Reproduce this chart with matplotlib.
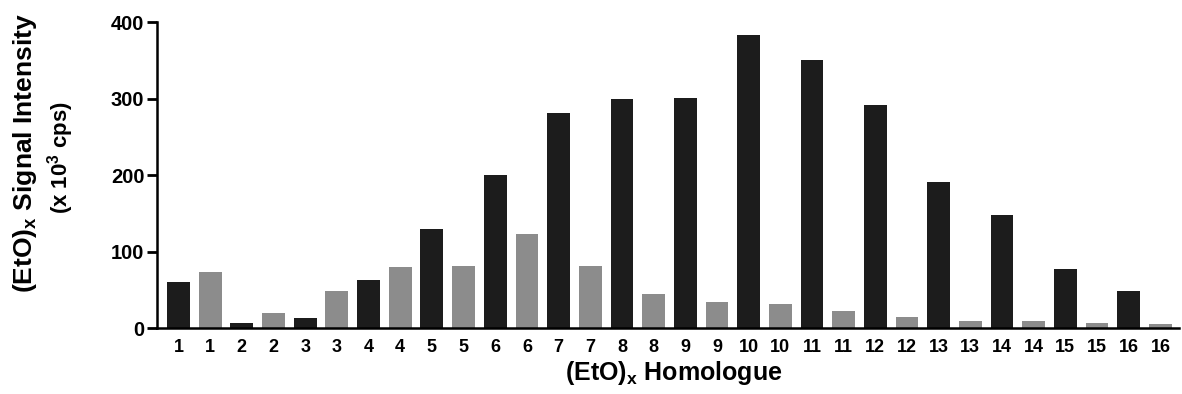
import matplotlib
matplotlib.use("Agg")
import matplotlib.pyplot as plt
import numpy as np

# Homologue numbers (each appears twice: dark series then gray series)
homologues = [str(n) for n in range(1, 17)]
dark_values = [60, 6, 13, 63, 130, 200, 281, 300, 301, 383, 351, 291, 191, 148, 77, 49]
gray_values = [73, 20, 49, 80, 81, 123, 81, 44, 34, 31, 22, 14, 9, 9, 6, 5]
y_ticks = [0, 100, 200, 300, 400]

dark_color = "#1c1c1c"
gray_color = "#8c8c8c"

plt.rcParams["font.family"] = ["Liberation Sans", "DejaVu Sans"]
plt.rcParams["mathtext.default"] = "regular"

fig = plt.figure(figsize=(11.82, 3.94), dpi=100)
ax = fig.add_axes([0.1328, 0.1675, 0.865, 0.7765])

values, colors, labels = [], [], []
for h, d, g in zip(homologues, dark_values, gray_values):
    values += [d, g]
    colors += [dark_color, gray_color]
    labels += [h, h]

x = np.arange(len(values))
ax.bar(x, values, width=0.72, color=colors, edgecolor="none")

ax.set_xlim(-0.68, 31.6)
ax.set_ylim(0, 400)
ax.set_yticks(y_ticks)
ax.set_yticklabels([str(t) for t in y_ticks], fontsize=14.5, fontweight="bold")
ax.set_xticks(x)
ax.set_xticklabels(labels, fontsize=13, fontweight="bold")
ax.tick_params(axis="x", length=0, pad=8)
ax.tick_params(axis="y", length=7, width=2, pad=2)

for side in ("top", "right"):
    ax.spines[side].set_visible(False)
ax.spines["left"].set_linewidth(1.8)
ax.spines["bottom"].set_linewidth(1.8)

fig.text(0.021, 0.612, "(EtO)$_{x}$ Signal Intensity", rotation=90,
         ha="center", va="center", fontsize=19, fontweight="bold")
fig.text(0.051, 0.599, "(x 10$^{3}$ cps)", rotation=90,
         ha="center", va="center", fontsize=16, fontweight="bold")
fig.text(0.570, 0.036, "(EtO)$_{x}$ Homologue",
         ha="center", va="baseline", fontsize=18, fontweight="bold")

fig.savefig("out.png", dpi=100, facecolor="white")
